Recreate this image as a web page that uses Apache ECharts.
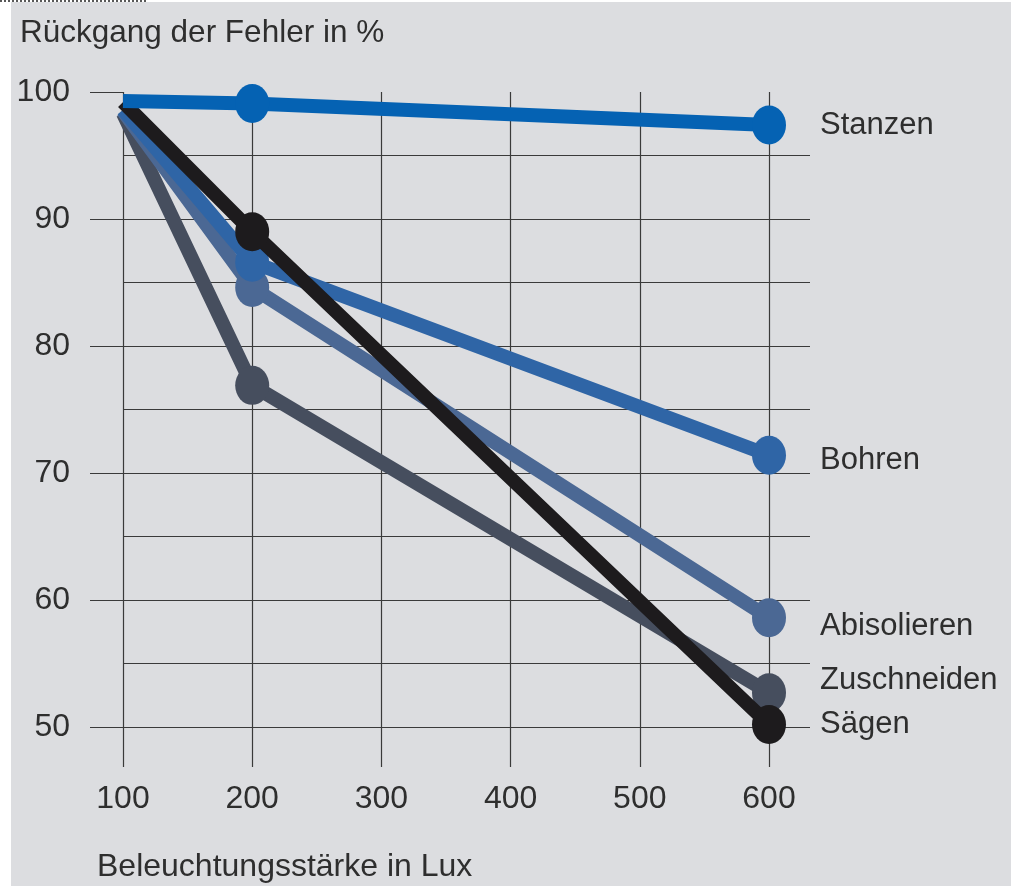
<!DOCTYPE html>
<html>
<head>
<meta charset="utf-8">
<script src="https://cdn.jsdelivr.net/npm/echarts@6/dist/echarts.min.js"></script>
<style>
html,body{margin:0;padding:0;background:#fff;}
#chart{width:1011px;height:886px;}
</style>
</head>
<body>
<div id="chart"></div>
<script>
// Beleuchtungsstärke (Lux)
var luxValues = [100, 200, 600];
var seriesNames = ['Zuschneiden', 'Abisolieren', 'Bohren', 'Sägen', 'Stanzen'];
var zuschneiden = [98.3, 76.9, 52.7];
var abisolieren = [98.5, 84.6, 58.6];
var bohren = [98.6, 86.6, 71.4];
var saegen = [99.2, 89.0, 50.2];
var stanzen = [99.3, 99.1, 97.4];
var yMajorTicks = [50, 60, 70, 80, 90, 100];
var yMinorTicks = [50, 55, 60, 65, 70, 75, 80, 85, 90, 95];
var xTicks = [100, 200, 300, 400, 500, 600];

var colors = ['#464e5e', '#4b6894', '#2f65a6', '#1d1b1d', '#0562b3'];
var labelShift = [-12, 9, 5, 0, 0];

var FONT = '"Liberation Sans", Arial, sans-serif';
var TXT = '#2e2e2e';
var GRID = '#3a3a3a';

function buildData(vals, idx) {
	var out = [];
	for (var i = 0; i < vals.length; i++) {
		var item = { value: [luxValues[i], vals[i]] };
		if (i == 0) {
			item.symbol = 'none';
		}
		if (i == vals.length - 1) {
			item.label = {
				show: true,
				position: 'right',
				distance: 34,
				offset: [0, labelShift[idx]],
				formatter: seriesNames[idx],
				fontFamily: FONT,
				fontSize: 31,
				color: TXT
			};
		}
		out.push(item);
	}
	return out;
}

var allVals = [zuschneiden, abisolieren, bohren, saegen, stanzen];
var series = [];
for (var s = 0; s < allVals.length; s++) {
	series.push({
		name: seriesNames[s],
		type: 'line',
		data: buildData(allVals[s], s),
		symbol: 'circle',
		symbolSize: [34, 39],
		z: 2 + s,
		itemStyle: { color: colors[s] },
		lineStyle: { color: colors[s], width: 14 },
		animation: false,
		silent: true
	});
}

var myChart = echarts.init(document.getElementById('chart'));
var option = {
	backgroundColor: '#ffffff',
	animation: false,
	graphic: [
		{ type: 'rect', z: -100, shape: { x: 11, y: 2, width: 1000, height: 884 }, style: { fill: '#dcdde0' } },
		{ type: 'line', shape: { x1: 0, y1: 1, x2: 147, y2: 1 }, style: { stroke: '#222', lineWidth: 1.5, lineDash: [2, 2] } },
		{ type: 'text', left: 20, top: 17, style: { text: 'Rückgang der Fehler in %', font: '31.5px ' + FONT, fill: TXT } },
		{ type: 'text', left: 97, top: 851, style: { text: 'Beleuchtungsstärke in Lux', font: '32px ' + FONT, fill: TXT } }
	],
	grid: { left: 123, right: 242, top: 92, bottom: 159 },
	xAxis: {
		type: 'value',
		min: 100,
		max: 600,
		interval: 100,
		axisLine: { show: false },
		axisTick: { show: true, inside: false, length: 40, customValues: xTicks, lineStyle: { color: GRID, width: 1.2 } },
		axisLabel: { show: true, margin: 56, fontFamily: FONT, fontSize: 32, color: TXT },
		splitLine: { show: true, lineStyle: { color: GRID, width: 1.2 } }
	},
	yAxis: [
		{
			type: 'value',
			position: 'left',
			min: 50,
			max: 100,
			interval: 5,
			axisLine: { show: false },
			axisTick: { show: true, inside: false, length: 33, customValues: yMajorTicks, lineStyle: { color: GRID, width: 1.2 } },
			axisLabel: { show: true, margin: 53, customValues: yMajorTicks, fontFamily: FONT, fontSize: 32, color: TXT },
			splitLine: { show: false }
		},
		{
			type: 'value',
			position: 'right',
			min: 50,
			max: 100,
			interval: 5,
			axisLine: { show: false },
			axisTick: { show: true, inside: false, length: 41, customValues: yMinorTicks, lineStyle: { color: GRID, width: 1.2 } },
			axisLabel: { show: false },
			splitLine: { show: true, lineStyle: { color: GRID, width: 1.2 } }
		}
	],
	series: series
};
myChart.setOption(option);
</script>
</body>
</html>
